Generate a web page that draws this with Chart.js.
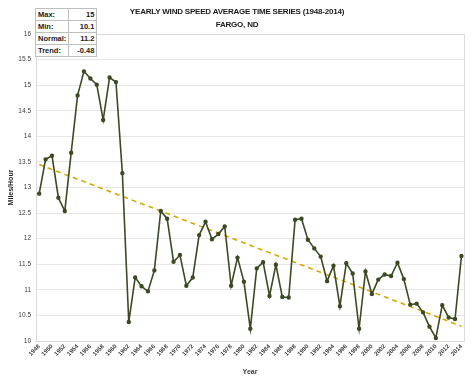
<!DOCTYPE html>
<html><head><meta charset="utf-8">
<script src="https://cdn.jsdelivr.net/npm/chart.js@4/dist/chart.umd.min.js"></script>
<style>
html,body{margin:0;padding:0;background:#fff;}
#wrap{position:relative;width:474px;height:379px;}
#title{position:absolute;left:0;top:5px;width:474px;text-align:center;font-family:"Liberation Sans Narrow","Liberation Sans",sans-serif;font-weight:bold;font-size:8px;line-height:13px;color:#1a1a1a;letter-spacing:-0.2px;}
#stats{position:absolute;left:35px;top:8px;border-collapse:collapse;border:1.5px solid #7f7f7f;font-family:"Liberation Sans Narrow","Liberation Sans",sans-serif;font-weight:bold;font-size:7.5px;color:#1a1a1a;background:#fff;}
#stats td{border:1px solid #bfbfbf;height:11px;padding:0 2px;line-height:11px;}
#stats td.k{width:26px;text-align:left;}
#stats td.v{width:23px;text-align:right;}
</style></head>
<body><div id="wrap">
<canvas id="c" width="474" height="379"></canvas>
<div id="title">YEARLY WIND SPEED AVERAGE TIME SERIES (1948-2014)<br>FARGO, ND</div>
<table id="stats"></table>
</div>
<script>
const years = [];
for (let y = 1948; y <= 2014; y++) years.push(y);
const windSpeed = [
 12.88,13.55,13.62,12.80,12.54,13.68,14.80,15.27,15.13,15.01,
 14.32,15.15,15.06,13.28,10.37,11.24,11.07,10.97,11.38,12.54,
 12.39,11.55,11.68,11.08,11.24,12.07,12.33,11.99,12.09,12.24,
 11.08,11.63,11.16,10.24,11.42,11.54,10.88,11.49,10.86,10.85,
 12.37,12.39,11.98,11.81,11.65,11.17,11.47,10.68,11.52,11.32,
 10.24,11.36,10.92,11.20,11.30,11.27,11.53,11.21,10.71,10.73,
 10.56,10.28,10.06,10.70,10.46,10.43,11.66
];
const trendYears = [1948, 2014];
const trendValues = [13.45, 10.29];
const xTickYears = [];
for (let y = 1948; y <= 2014; y += 2) xTickYears.push(y);
const statLabels = ['Max:', 'Min:', 'Normal:', 'Trend:'];
const statValues = ['15', '10.1', '11.2', '-0.48'];

const tbl = document.getElementById('stats');
statLabels.forEach((l, i) => {
  const tr = document.createElement('tr');
  tr.innerHTML = '<td class="k">' + l + '</td><td class="v">' + statValues[i] + '</td>';
  tbl.appendChild(tr);
});

const borderPlugin = {
  id: 'areaBorder',
  beforeDatasetsDraw(chart) {
    const a = chart.chartArea, ctx = chart.ctx;
    ctx.save();
    ctx.strokeStyle = '#d9d9d9';
    ctx.lineWidth = 1;
    ctx.strokeRect(Math.round(a.left) + 0.5, Math.round(a.top) + 0.5, Math.round(a.right - a.left), Math.round(a.bottom - a.top));
    ctx.restore();
  }
};

const font = "'Liberation Sans Narrow','Liberation Sans',sans-serif";
new Chart(document.getElementById('c'), {
  type: 'line',
  data: {
    datasets: [
      {
        data: years.map((y, i) => ({x: y, y: windSpeed[i]})),
        borderColor: '#3b4a22',
        backgroundColor: '#3b4a22',
        borderWidth: 1.6,
        pointRadius: 1.4,
        pointHoverRadius: 1.4,
        tension: 0,
        order: 1
      },
      {
        data: trendYears.map((y, i) => ({x: y, y: trendValues[i]})),
        borderColor: '#d6a70a',
        borderWidth: 1.6,
        borderDash: [5, 4],
        pointRadius: 0,
        tension: 0,
        order: 2
      }
    ]
  },
  options: {
    responsive: false,
    animation: false,
    layout: {padding: {top: 34, right: 10, left: 7, bottom: 3}},
    plugins: {legend: {display: false}, tooltip: {enabled: false}, title: {display: false}},
    scales: {
      x: {
        type: 'linear',
        min: 1947.5,
        max: 2014.4,
        afterBuildTicks: s => { s.ticks = xTickYears.map(v => ({value: v})); },
        afterFit: s => { s.height = 35; },
        grid: {display: false, drawTicks: false},
        border: {display: true, color: '#d9d9d9'},
        ticks: {
          autoSkip: false, maxRotation: 45, minRotation: 45, padding: 2,
          font: {family: font, size: 6, weight: 'bold'}, color: '#404040',
          callback: v => String(v)
        },
        title: {display: true, text: 'Year', font: {family: font, size: 7, weight: 'bold'}, color: '#404040', padding: {top: 0, bottom: 0}}
      },
      y: {
        min: 10, max: 16,
        afterFit: s => { s.width = 29; },
        grid: {color: '#e6e6e6', drawTicks: false},
        border: {display: true, color: '#d9d9d9'},
        ticks: {stepSize: 0.5, padding: 5, font: {family: font, size: 6.5}, color: '#404040',
          callback: v => String(Math.round(v * 10) / 10)},
        title: {display: true, text: 'Miles/Hour', font: {family: font, size: 7, weight: 'bold'}, color: '#262626', padding: {top: 0, bottom: 0}}
      }
    }
  },
  plugins: [borderPlugin]
});
</script>
</body></html>
